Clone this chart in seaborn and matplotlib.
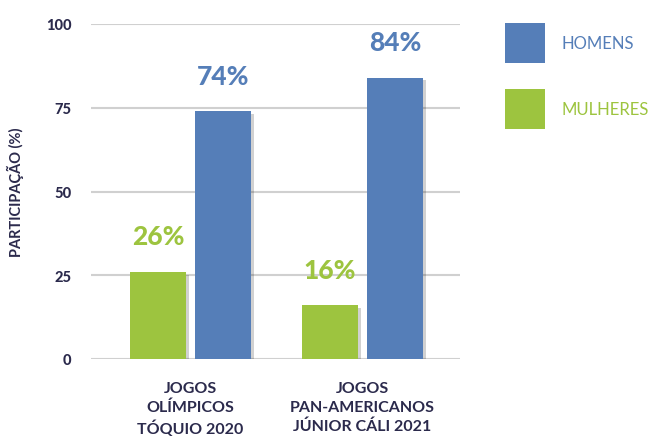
import matplotlib
matplotlib.use("Agg")
import matplotlib.pyplot as plt
import matplotlib.patheffects as pe
from matplotlib.lines import Line2D
import seaborn as sns
import pandas as pd

events = ["JOGOS\nOLÍMPICOS\nTÓQUIO 2020", "JOGOS\nPAN-AMERICANOS\nJÚNIOR CÁLI 2021"]
genders = ["MULHERES", "HOMENS"]
mulheres = [26, 16]
homens = [74, 84]
y_ticks = [0, 25, 50, 75, 100]

colors = {"MULHERES": "#9DC43F", "HOMENS": "#557EB8"}
dark = "#2B2A4C"

df = pd.DataFrame({
    "evento": events * 2,
    "genero": ["MULHERES"] * len(events) + ["HOMENS"] * len(events),
    "valor": mulheres + homens,
})

sns.set_theme(style="white")
plt.rcParams["font.family"] = ["Lato", "DejaVu Sans"]

fig = plt.figure(figsize=(6.54, 4.39), dpi=100)
ax = fig.add_axes([91 / 654, 1 - 360 / 439, (460 - 91) / 654, (360 - 25) / 439])

sns.barplot(data=df, x="evento", y="valor", hue="genero", hue_order=genders,
            order=events, palette=colors, width=0.756, gap=0.14, ax=ax,
            legend=False, saturation=1, errorbar=None, linewidth=0)

for p in ax.patches:
    p.set_linewidth(0)
    p.set_path_effects([pe.SimplePatchShadow(offset=(2.5, -2), shadow_rgbFace="#000000", alpha=0.18),
                        pe.Normal()])
    p.set_zorder(3)

for cont, g in zip(ax.containers, genders):
    for rect, v in zip(cont, cont.datavalues):
        ax.text(rect.get_x() + rect.get_width() / 2, v + 7, f"{int(v)}%",
                ha="center", va="bottom", fontsize=19, fontweight="black",
                color=colors[g])

ax.set_ylim(0, 100)
ax.set_xlim(-0.578, 1.567)
ax.set_yticks(y_ticks)
ax.set_yticklabels([str(t) for t in y_ticks], fontsize=10.5, fontweight="black", color=dark)
ax.grid(axis="y", color="#D0D0D0", linewidth=1.5, zorder=0)
ax.set_axisbelow(True)
for s in ax.spines.values():
    s.set_visible(False)
ax.tick_params(axis="y", length=0, pad=14)
ax.tick_params(axis="x", length=0, pad=16)
ax.set_xticks(range(len(events)))
ax.set_xticklabels(events, fontsize=11.5, fontweight="bold", color=dark, linespacing=1.4)
ax.set_xlabel("")
ax.set_ylabel("PARTICIPAÇÃO (%)", fontsize=10.5, fontweight="bold", color=dark, labelpad=16)

handles = [Line2D([], [], marker="s", linestyle="none", markersize=29,
                  markerfacecolor=colors[g], markeredgewidth=0) for g in ["HOMENS", "MULHERES"]]
leg = fig.legend(handles, ["HOMENS", "MULHERES"], loc="upper left",
                 bbox_to_anchor=(500 / 654, 1 - 28 / 439), frameon=False,
                 fontsize=12, labelspacing=3.0, handletextpad=1.2, borderpad=0)
for t, g in zip(leg.get_texts(), ["HOMENS", "MULHERES"]):
    t.set_color(colors[g])

fig.savefig("out.png", dpi=100)
